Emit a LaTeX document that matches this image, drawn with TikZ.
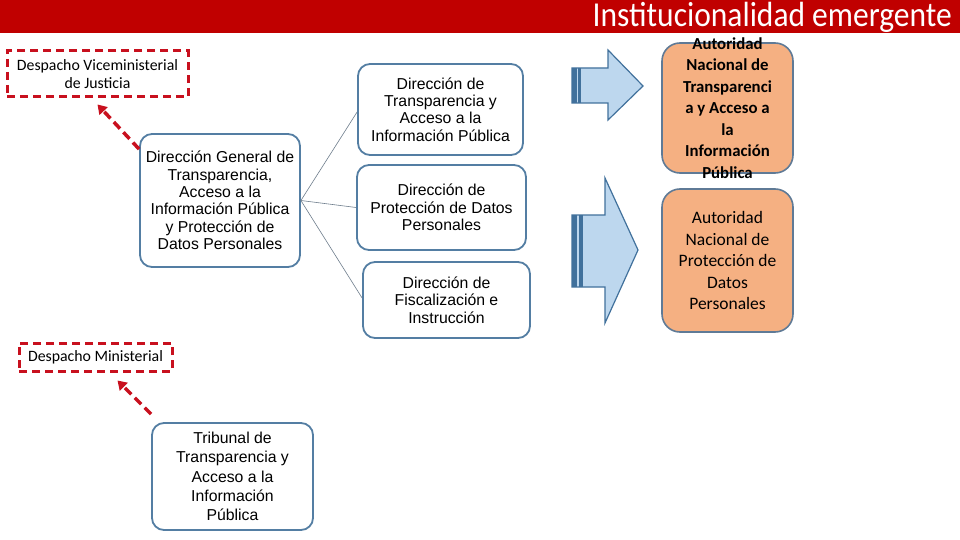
\documentclass[tikz,border=0pt]{standalone}
\usepackage{fontspec}
\setmainfont{Liberation Sans}
\newfontfamily\calib{Carlito}
\usetikzlibrary{arrows.meta,calc}
\definecolor{bannerred}{HTML}{C00000}
\definecolor{boxblue}{RGB}{84,126,163}
\definecolor{lightblue}{RGB}{189,215,238}
\definecolor{darkblue}{HTML}{41719C}
\definecolor{orangefill}{RGB}{245,176,130}
\definecolor{orangeedge}{RGB}{95,122,150}
\definecolor{redline}{RGB}{200,16,30}
\definecolor{thinline}{RGB}{110,125,140}
\tikzset{
  bluebox/.style={draw=boxblue, line width=1.8pt, rounded corners=12pt, fill=white, align=center, inner sep=0pt},
  orangebox/.style={draw=orangeedge, line width=1.6pt, rounded corners=18pt, fill=orangefill, align=center, inner sep=0pt},
  redbox/.style={draw=redline, line width=3pt, dash pattern=on 8pt off 5pt, align=center, inner sep=0pt},
  thinlink/.style={draw=thinline, line width=0.6pt},
  redarrow/.style={draw=redline, line width=3.5pt, dash pattern=on 9pt off 5pt, -{Triangle[width=11pt,length=9pt]}},
  blockarrow/.style={fill=lightblue, draw=darkblue, line width=1.2pt, line join=miter},
  arialA/.style={font={\fontsize{15.8}{17.3}\selectfont}},
  arialB/.style={font={\fontsize{15.8}{19.2}\selectfont}},
  calibS/.style={font={\calib\fontsize{15.8}{18}\selectfont}},
  calibR/.style={font={\calib\fontsize{17.5}{21.5}\selectfont}},
  calibB/.style={font={\calib\bfseries\fontsize{16.8}{21.5}\selectfont}},
}
\begin{document}
\begin{tikzpicture}[x=1pt,y=-1pt]
\useasboundingbox (0,0) rectangle (960,540);
\fill[white] (0,0) rectangle (960,540);
% banner
\fill[bannerred] (0,0) rectangle (960,33);
\node[anchor=base east, inner sep=0pt, text=white] (title) at (952,27)
  {\calib\fontsize{35}{35}\selectfont\scalebox{0.9}[1]{Institucionalidad emergente}};

% left column
\node[redbox, calibS, minimum width=181pt, minimum height=46pt] (vice) at (97.5,74)
  {Despacho Viceministerial\\de Justicia};
\node[bluebox, arialA, minimum width=160pt, minimum height=133pt] (dg) at (220,200.5)
  {Dirección General de\\Transparencia,\\Acceso a la\\Información Pública\\y Protección de\\Datos Personales};
\node[redbox, calibS, minimum width=153pt, minimum height=28pt] (mn) at (95.5,357)
  {Despacho Ministerial};
\node[bluebox, arialB, minimum width=161pt, minimum height=107pt] (trib) at (232.5,476.5)
  {Tribunal de\\Transparencia y\\Acceso a la\\Información\\Pública};

% middle column
\node[bluebox, arialA, minimum width=165pt, minimum height=91pt] (dta) at (440.5,109.5)
  {Dirección de\\Transparencia y\\Acceso a la\\Información Pública};
\node[bluebox, arialA, minimum width=169pt, minimum height=85pt] (dpd) at (441.5,207.5)
  {Dirección de\\Protección de Datos\\Personales};
\node[bluebox, arialA, minimum width=167pt, minimum height=76pt] (dfi) at (446.5,300)
  {Dirección de\\Fiscalización e\\Instrucción};

% connectors
\draw[thinlink] (dg.east) -- ($(dta.west)+(0,2.5)$);
\draw[thinlink] (dg.east) -- (dpd.west);
\draw[thinlink] (dg.east) -- ($(dfi.west)+(0,-2)$);
\draw[redarrow] ($(dg.north west)+(0,16)$) -- ($(vice.south)+(0,6)$);
\draw[redarrow] ($(trib.north west)+(0,-8)$) -- ($(mn.south)+(22,8)$);

% block arrows
\draw[blockarrow] (572,68) -- (608,68) -- (608,50) -- (643,86) -- (608,120) -- (608,103) -- (572,103) -- cycle;
\fill[darkblue] (572,68) rectangle (576.5,103);
\fill[darkblue] (578,68) rectangle (581,103);
\draw[blockarrow] (572,215) -- (605,215) -- (605,178) -- (638,250) -- (605,323) -- (605,287) -- (572,287) -- cycle;
\fill[darkblue] (572,215) rectangle (577,287);
\fill[darkblue] (579,215) rectangle (583,287);

% right column
\node[orangebox, minimum width=131pt, minimum height=130pt] (ant) at (727.5,108) {};
\node[calibB, align=center, inner sep=0pt] (anttext) at (ant.center)
  {Autoridad\\Nacional de\\Transparenci\\a y Acceso a\\la\\Información\\Pública};
\node[orangebox, calibR, minimum width=131pt, minimum height=143pt] (anp) at (727.5,260.5)
  {Autoridad\\Nacional de\\Protección de\\Datos\\Personales};
\end{tikzpicture}
\end{document}
